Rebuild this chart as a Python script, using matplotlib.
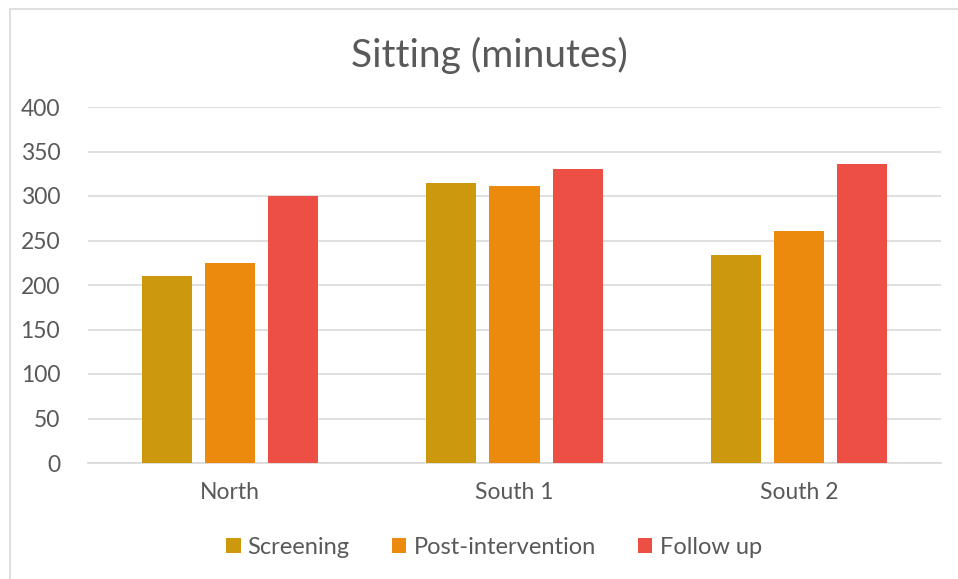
import numpy as np
import matplotlib
matplotlib.use('Agg')
import matplotlib.pyplot as plt
import matplotlib.patches as patches

categories = ['North', 'South 1', 'South 2']
series_names = ['Screening', 'Post-intervention', 'Follow up']
screening = [210, 315, 234]
post_intervention = [225, 311, 261]
follow_up = [300, 330, 336]
yticks = [0, 50, 100, 150, 200, 250, 300, 350, 400]

colors = ['#CC980E', '#EB8A0C', '#EE4F45']
text_col = '#595959'

plt.rcParams['font.family'] = ['Lato', 'DejaVu Sans']

W, H = 958, 579
fig = plt.figure(figsize=(W / 100, H / 100), dpi=100)
# plot area in pixels: x 88..941, y 107..463
ax = fig.add_axes([88 / W, 1 - 463 / H, (941 - 88) / W, (463 - 107) / H])

# outer chart border (cut off at right and bottom)
fig.patches.append(patches.Rectangle((10 / W, -0.05), 1.0, 1 - 9 / H + 0.05,
                                     transform=fig.transFigure, fill=False,
                                     edgecolor='#D9D9D9', linewidth=1.2))

x = np.arange(len(categories))
bw = 0.176
step = 0.222
all_vals = [screening, post_intervention, follow_up]
for i, vals in enumerate(all_vals):
    ax.bar(x + (i - 1) * step, vals, width=bw, color=colors[i],
           label=series_names[i], zorder=3)

ax.set_xlim(-0.5, 2.5)
ax.set_ylim(0, 400)
ax.set_yticks(yticks)
ax.set_xticks(x)
ax.set_xticklabels(categories)
ax.yaxis.grid(True, color='#D9D9D9', linewidth=1.2, zorder=0)
ax.tick_params(axis='both', length=0, labelsize=16.5, colors=text_col)
ax.tick_params(axis='y', pad=20)
ax.tick_params(axis='x', pad=14)
for s in ['top', 'right', 'left']:
    ax.spines[s].set_visible(False)
ax.spines['bottom'].set_color('#D9D9D9')
ax.spines['bottom'].set_linewidth(1.2)

fig.text(489 / W, 1 - 55 / H, 'Sitting (minutes)', ha='center', va='center',
         fontsize=28, color=text_col)

fig.legend(loc='center', bbox_to_anchor=(494 / W, 1 - 547 / H), ncol=3,
           frameon=False, fontsize=17, labelcolor=text_col,
           handlelength=0.6, handleheight=0.6, handletextpad=0.3,
           columnspacing=1.8)

fig.savefig('out.png', dpi=100)
